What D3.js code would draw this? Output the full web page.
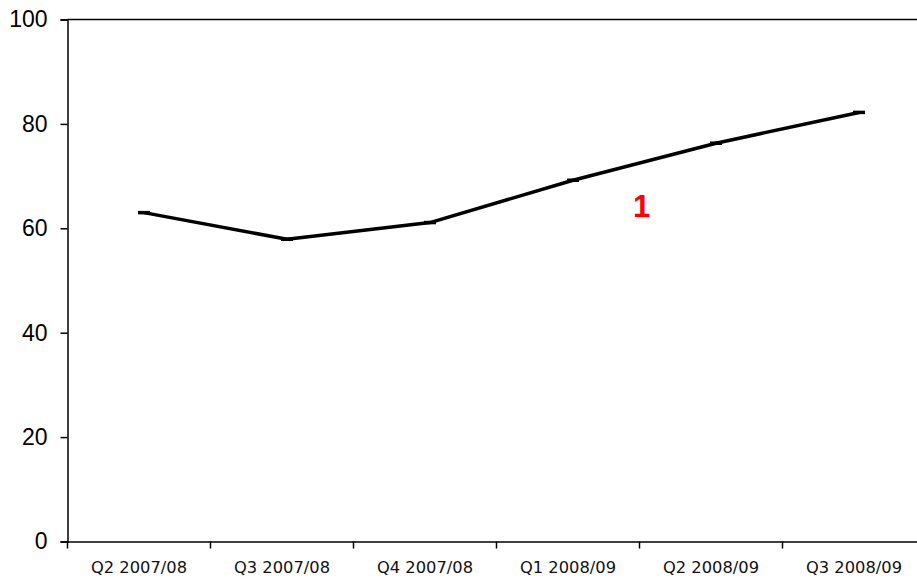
<!DOCTYPE html>
<html><head><meta charset="utf-8">
<script src="https://cdn.jsdelivr.net/npm/d3@7"></script>
<style>body{margin:0;background:#fff}svg{display:block}</style>
</head><body>
<script>
const categories = ["Q2 2007/08","Q3 2007/08","Q4 2007/08","Q1 2008/09","Q2 2008/09","Q3 2008/09"];
const values = [63.0, 57.9, 61.1, 69.2, 76.3, 82.2];
const yTicks = [0,20,40,60,80,100];
const annotation = {text:"1", cat:"Q2 2008/09"};

(function(){
const W=917,H=581;
const mLeft=67.5, mRight=925.5, mTop=19.5, mBottom=541.5;
const svg=d3.select("body").append("svg").attr("width",W).attr("height",H);
const x=d3.scaleBand().domain(categories).range([mLeft,mRight]);
const y=d3.scaleLinear().domain([0,100]).range([mBottom,mTop]);

// top border line
svg.append("line").attr("x1",mLeft).attr("x2",W).attr("y1",y(100)).attr("y2",y(100))
  .attr("stroke","#000").attr("stroke-width",1.5);

// y axis
const ya=svg.append("g").attr("transform",`translate(${mLeft},0)`)
  .call(d3.axisLeft(y).tickValues(yTicks).tickSize(7).tickPadding(13).tickFormat(d3.format("d")));
ya.select(".domain").attr("stroke","#000").attr("stroke-width",1.5);
ya.selectAll(".tick line").attr("stroke","#000").attr("stroke-width",1.5);
ya.selectAll("text").attr("font-family","'Liberation Sans',Arial,sans-serif").attr("font-size",23).attr("fill","#000");

// x axis
const xa=svg.append("g").attr("transform",`translate(0,${mBottom})`)
  .call(d3.axisBottom(x).tickSize(0).tickPadding(20));
xa.select(".domain").attr("stroke","#000").attr("stroke-width",1.5);
xa.selectAll("text").attr("font-family","'DejaVu Sans',Verdana,sans-serif").attr("font-size",16.3).attr("fill","#111");
// tick marks at band boundaries
svg.append("g").selectAll("line").data(categories).join("line")
  .attr("x1",d=>x(d)).attr("x2",d=>x(d)).attr("y1",mBottom).attr("y2",mBottom+7)
  .attr("stroke","#000").attr("stroke-width",1.5);

const px=d=>x(d)+x.bandwidth()/2+5;
const line=d3.line().x((d,i)=>px(categories[i])).y(d=>y(d));
svg.append("path").datum(values).attr("d",line).attr("fill","none")
  .attr("stroke","#000").attr("stroke-width",3.5).attr("stroke-linejoin","round");
svg.append("g").selectAll("line").data(values).join("line")
  .attr("x1",(d,i)=>px(categories[i])-6).attr("x2",(d,i)=>px(categories[i])+6)
  .attr("y1",d=>y(d)).attr("y2",d=>y(d)).attr("stroke","#000").attr("stroke-width",3.5);

svg.append("text").attr("x",x(annotation.cat)+2).attr("y",217)
  .attr("text-anchor","middle").attr("font-family","'Liberation Sans',Arial,sans-serif")
  .attr("font-weight","bold").attr("font-size",31).attr("fill","#ff0000").text(annotation.text);
})();
</script>
</body></html>
